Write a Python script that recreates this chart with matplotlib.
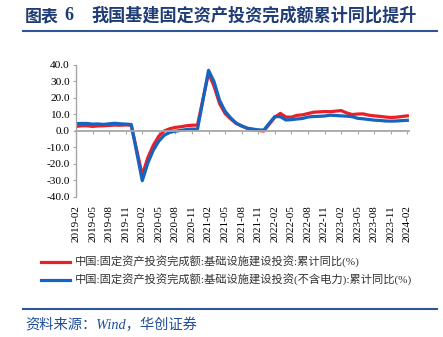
import matplotlib
matplotlib.use("Agg")
import matplotlib.pyplot as plt
from matplotlib.lines import Line2D
import numpy as np
import pandas as pd

# 基建投资累计同比 (%), 月度，1月无数据
months = [p for p in pd.period_range("2019-02", "2024-02", freq="M") if p.month != 1]

infra_total = [
    2.5, 3.0, 3.0, 2.6, 2.9, 3.0, 3.2, 3.4, 3.3, 3.5, 3.3,            # 2019
    -26.9, -16.4, -8.8, -3.3, -0.1, 1.2, 2.0, 2.4, 3.0, 3.3, 3.4,     # 2020
    35.0, 26.9, 16.4, 10.4, 7.2, 4.4, 2.8, 1.5, 0.7, 0.2, -0.2,       # 2021
    8.1, 10.5, 8.3, 8.2, 9.3, 9.6, 10.4, 11.2, 11.4, 11.6, 11.5,      # 2022
    12.2, 10.8, 9.8, 10.1, 10.2, 9.4, 9.0, 8.7, 8.3, 8.0, 8.2,        # 2023
    9.0,                                                             # 2024
]
infra_ex_power = [
    4.3, 4.4, 4.4, 4.0, 4.1, 3.8, 4.2, 4.5, 4.2, 4.0, 3.8,
    -30.3, -19.7, -11.8, -6.3, -2.7, -1.0, -0.3, 0.2, 0.7, 1.0, 0.9,
    36.6, 29.7, 18.4, 11.8, 7.8, 4.6, 2.9, 1.5, 1.0, 0.5, 0.4,
    8.6, 8.5, 6.5, 6.7, 7.1, 7.4, 8.3, 8.6, 8.7, 8.9, 9.4,
    9.0, 8.8, 8.5, 7.5, 7.2, 6.8, 6.4, 6.2, 5.9, 5.8, 5.9,
    6.3,
]

label_total = "中国:固定资产投资完成额:基础设施建设投资:累计同比(%)"
label_ex_power = "中国:固定资产投资完成额:基础设施建设投资(不含电力):累计同比(%)"
title_tag = "图表"
title_num = "6"
title_text = "我国基建固定资产投资完成额累计同比提升"

RED = "#E8202A"
BLUE = "#1565C0"
NAVY = "#1F3C74"
GREY = "#A6A6A6"
CJK = ["Noto Sans CJK SC"]
SERIF_CJK = ["Liberation Serif", "Noto Sans CJK SC"]

W, H = 443, 337
start = months[0]
x = np.array([(p - start).n for p in months])
tick_pos = np.arange(0, x[-1] + 1, 3)
tick_lab = [str(start + int(t)) for t in tick_pos]

fig = plt.figure(figsize=(W / 100, H / 100), dpi=100)
ax = fig.add_axes([76 / W, 1 - 196.7 / H, 333 / W, 132 / H])

ax.plot(x, infra_total, color=RED, lw=2.3, solid_joinstyle="round")
ax.plot(x, infra_ex_power, color=BLUE, lw=2.3, solid_joinstyle="round")

ax.set_xlim(0, x[-1] + 0.3)
ax.set_ylim(-40, 40)
ax.set_yticks(np.arange(-40, 41, 10))
ax.set_yticklabels([f"{v:.1f}" for v in np.arange(-40, 41, 10)],
                   family="Liberation Serif", fontsize=8.2)
ax.tick_params(axis="y", direction="out", length=2.5, width=0.8, color=GREY, pad=2)

for s in ("top", "right"):
    ax.spines[s].set_visible(False)
ax.spines["left"].set_color(GREY)
ax.spines["left"].set_linewidth(1.0)
ax.spines["bottom"].set_position(("data", 0))
ax.spines["bottom"].set_color(GREY)
ax.spines["bottom"].set_linewidth(1.3)
ax.set_xticks(tick_pos)
ax.tick_params(axis="x", direction="out", length=2.5, width=0.8, color=GREY,
               labelbottom=False)

# 日期标签放在图底部
sec = ax.secondary_xaxis("bottom")
sec.spines["bottom"].set_visible(False)
sec.set_xticks(tick_pos)
sec.set_xticklabels(tick_lab, rotation=90, family="Liberation Serif", fontsize=8)
sec.tick_params(axis="x", length=0, pad=6)

handles = [Line2D([], [], color=RED, lw=2.3), Line2D([], [], color=BLUE, lw=2.3)]
fig.legend(handles, [label_total, label_ex_power], loc="upper left",
           bbox_to_anchor=(31 / W, 1 - 246 / H), frameon=False,
           prop={"family": SERIF_CJK, "size": 8.1}, handlelength=2.6,
           handletextpad=0.4, labelspacing=0.5, labelcolor="#333333")

# 标题与上下分隔线
fig.text(25 / W, 1 - 16 / H, title_tag, family=CJK, fontsize=12.2, weight="bold",
         color=NAVY, va="center")
fig.text(64 / W, 1 - 16 / H, title_num, family="Liberation Serif", fontsize=13,
         weight="bold", color=NAVY, va="center")
fig.text(91 / W, 1 - 16 / H, title_text, family=CJK, fontsize=12.3, weight="bold",
         color=NAVY, va="center")
fig.add_artist(Line2D([23 / W, 437 / W], [1 - 31 / H, 1 - 31 / H], color="#2E5597", lw=1.5))
fig.add_artist(Line2D([23 / W, 437 / W], [1 - 309 / H, 1 - 309 / H], color="#2E5597", lw=1.5))

fig.text(25 / W, 1 - 325 / H, "资料来源：Wind，华创证券", family=SERIF_CJK,
         style="italic", fontsize=10.3, color="#1F4E9A", va="center")

fig.savefig("out.png", dpi=100)
